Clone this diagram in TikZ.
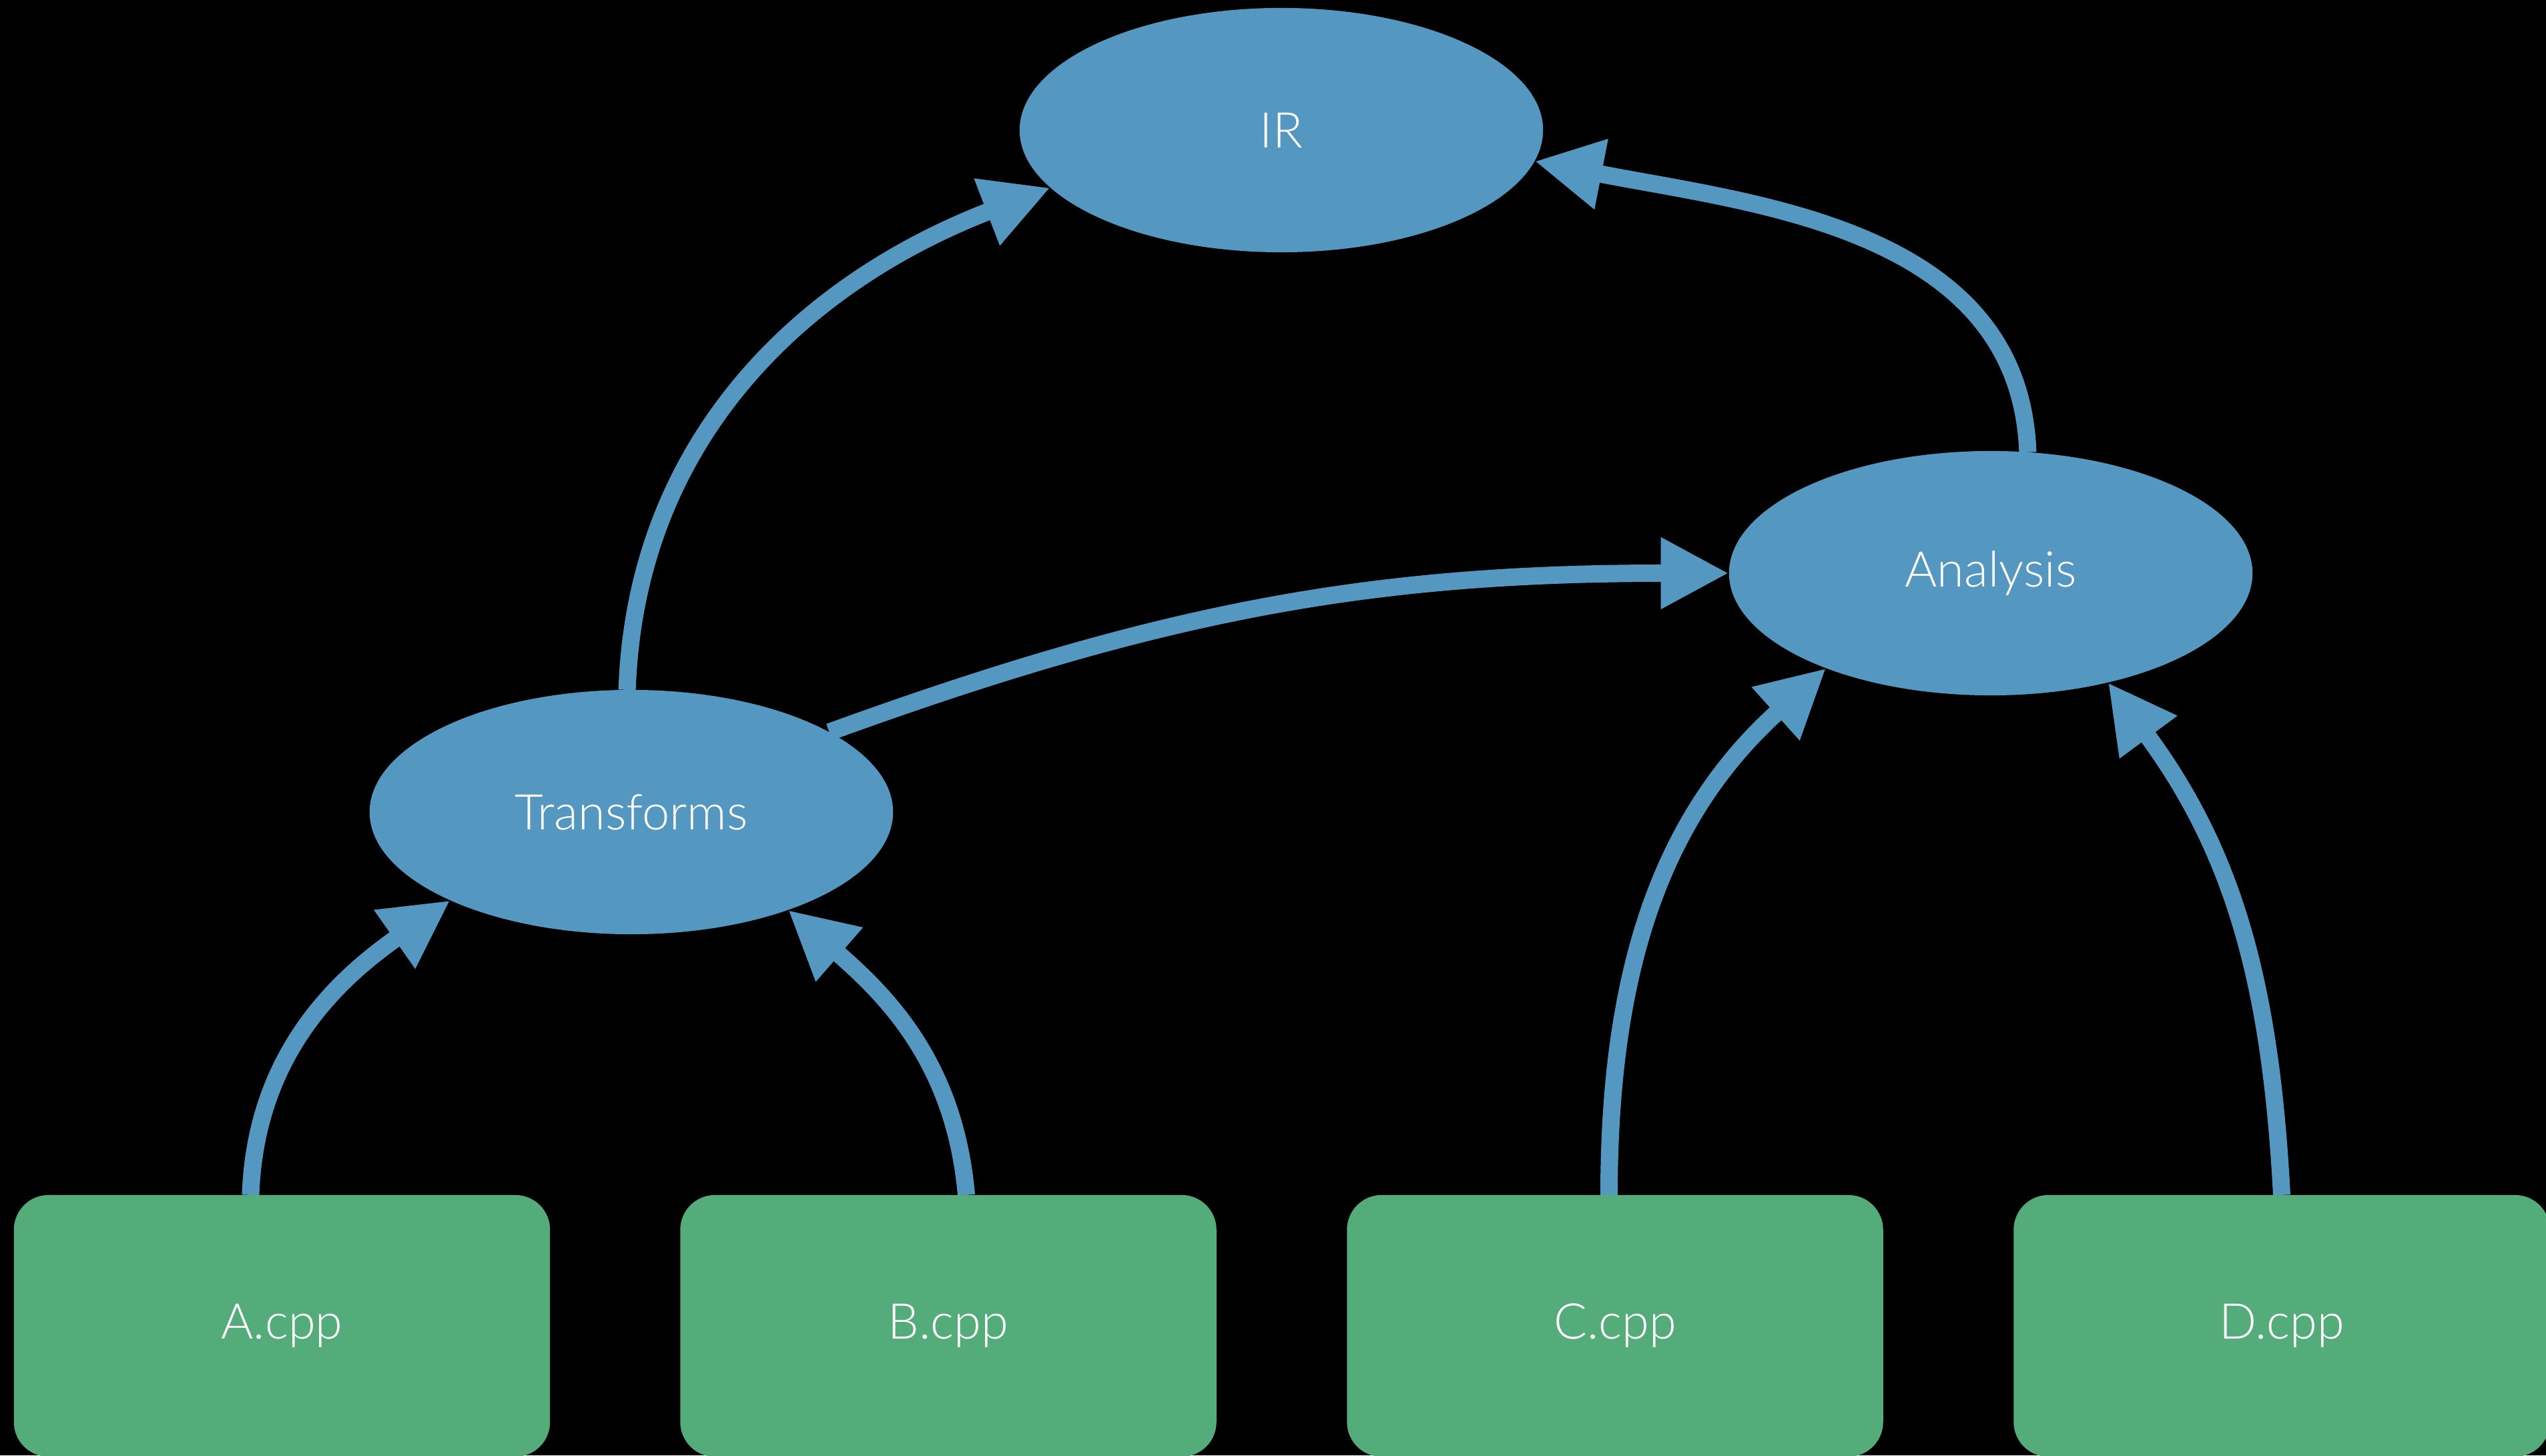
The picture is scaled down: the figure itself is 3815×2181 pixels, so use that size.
\documentclass[tikz,border=0pt]{standalone}
\usepackage{fontspec}
\setmainfont{Lato}[UprightFont=* Light]
\usetikzlibrary{arrows.meta,shapes.geometric}
\definecolor{nodeblue}{RGB}{84,152,194}
\definecolor{filegreen}{RGB}{84,172,122}
\pgfdeclarelayer{bg}
\pgfdeclarelayer{edges}
\pgfsetlayers{bg,edges,main}
\begin{document}
\begin{tikzpicture}[x=0.01cm,y=0.01cm,
  label font/.style={font=\fontsize{21}{26}\selectfont},
  stage/.style={ellipse, fill=nodeblue, minimum width=7.84cm, minimum height=3.66cm,
    inner sep=0pt, outer sep=0pt, text=white, label font},
  source/.style={rectangle, rounded corners=0.52cm, fill=filegreen,
    minimum width=8.03cm, minimum height=3.92cm, inner sep=0pt, outer sep=0pt,
    text=white, label font},
  flow/.style={draw=nodeblue, line width=0.26cm,
    -{Triangle[length=1.02cm,width=1.0cm]}}
]
\clip (0,0) rectangle (3815,2181);
\useasboundingbox (0,0) rectangle (3815,2181);
\begin{pgfonlayer}{bg}
  \fill[black] (0,0) rectangle (3815,2181);
\end{pgfonlayer}

% passes and the IR they work on
\node[stage] (IR) at (1920,1986) {IR};
\node[stage] (Transforms) at (946,964) {Transforms};
\node[stage] (Analysis) at (2983,1322) {Analysis};

% source files
\node[source] (A) at (422.5,194) {A.cpp};
\node[source] (B) at (1421,194) {B.cpp};
\node[source] (C) at (2420,194) {C.cpp};
\node[source] (D) at (3419,194) {D.cpp};

\begin{pgfonlayer}{edges}
  \draw[flow] ([xshift=-0.47cm]A.north) to[out=88,in=215] (Transforms.206.6);
  \draw[flow] ([xshift=0.27cm]B.north) to[out=95,in=319] (Transforms.328.2);
  \draw[flow] ([xshift=-0.09cm]C.north) to[out=90,in=222] (Analysis.210.2);
  \draw[flow] (D.north) to[out=93,in=306.5] (Analysis.317.2);
  \draw[flow] (Transforms.22) to[out=20,in=180] (Analysis.180);
  \draw[flow] (Analysis.73.5) to[out=92,in=349] (IR.353.1);
  \draw[flow] (Transforms.92.8) to[out=88,in=201] (IR.194.2);
\end{pgfonlayer}
\end{tikzpicture}
\end{document}
